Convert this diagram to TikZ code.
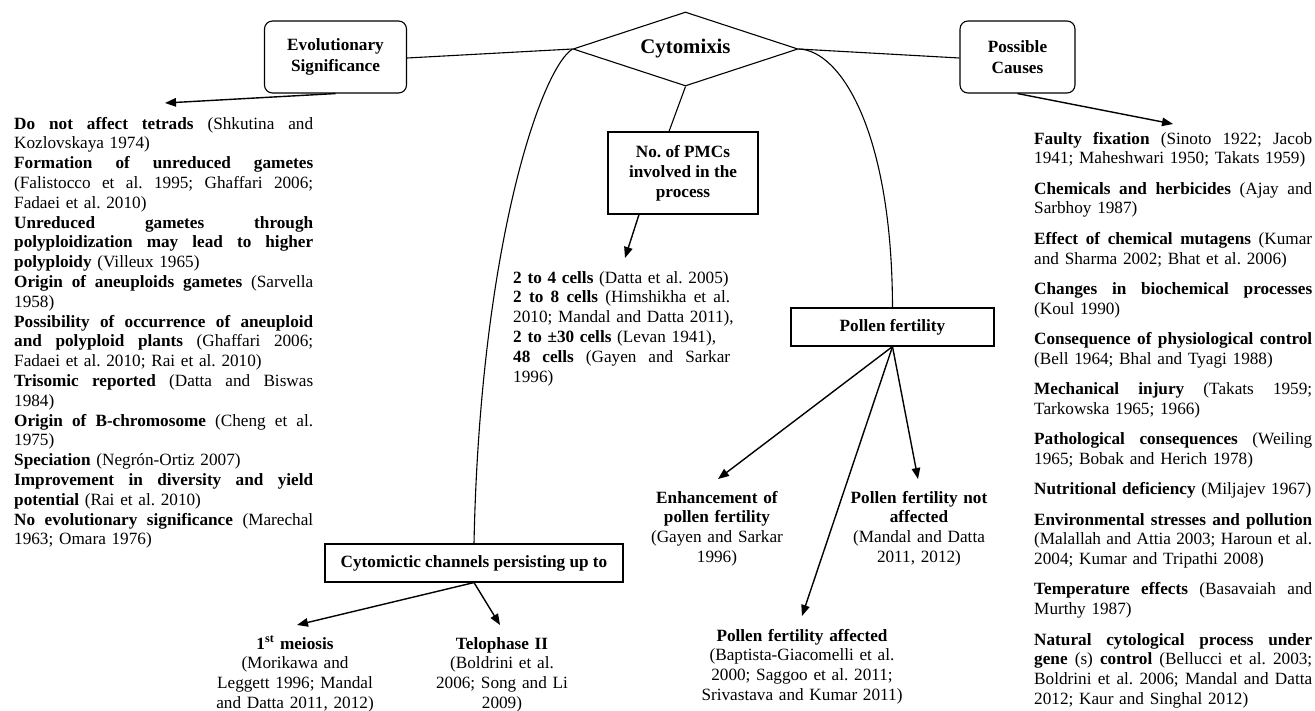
\documentclass[tikz,border=0pt]{standalone}
\usepackage{fontspec}
\setmainfont{Liberation Serif}
\usetikzlibrary{shapes.geometric,arrows.meta}
\frenchspacing
\hbadness=10000
\newcommand\jline[2]{\leavevmode\hbox to #1{\spaceskip=0.25em plus 1fil\relax\xspaceskip=\spaceskip #2}}
\begin{document}
\begin{tikzpicture}[x=1pt,y=-1pt,
  basefont/.style={font=\fontsize{17.2}{19.8}\selectfont},
  col/.style={basefont, inner sep=0pt, align=left, anchor=base west},
  ctr/.style={basefont, inner sep=0pt, align=center, anchor=base},
  rbox/.style={draw, line width=1.1pt, rounded corners=8pt, font=\fontsize{17.2}{20.5}\selectfont\bfseries, align=center, inner sep=0pt},
  sbox/.style={draw, line width=1.1pt, font=\fontsize{17.2}{20}\selectfont\bfseries, align=center, inner sep=0pt},
  conn/.style={line width=1.1pt},
  arr/.style={line width=1.4pt, -{Triangle[length=11pt,width=8.5pt]}}]
\useasboundingbox (0,0) rectangle (1315,710);

% central diamond and boxes
\node[diamond, draw, line width=1.1pt, aspect=3.04, minimum width=225pt, minimum height=74pt, inner sep=0pt,
      font=\fontsize{20.8}{24}\selectfont\bfseries] (dia) at (685.5,49) {Cytomixis};
\node[rbox, minimum width=142pt, minimum height=72pt] (evo) at (335.5,57) {Evolutionary\\Significance};
\node[rbox, minimum width=115pt, minimum height=72pt] (cau) at (1017.5,57) {Possible\\Causes};
\node[sbox, minimum width=150pt, minimum height=82pt] (pmc) at (683,173) {No. of PMCs\\involved in the\\process};
\node[sbox, minimum width=203pt, minimum height=38pt] (pol) at (892.5,327) {Pollen fertility};
\node[sbox, minimum width=298pt, minimum height=38pt] (cyt) at (474,563) {Cytomictic channels persisting up to};

% left column
\node[col, text width=299pt] (evt) at (14,129) {%
\jline{299pt}{\textbf{Do not affect tetrads} (Shkutina and}\\
Kozlovskaya 1974)\\
\jline{299pt}{\textbf{Formation of unreduced gametes}}\\
\jline{299pt}{(Falistocco et al. 1995; Ghaffari 2006;}\\
Fadaei et al. 2010)\\
\jline{299pt}{\textbf{Unreduced gametes through}}\\
\jline{299pt}{\textbf{polyploidization may lead to higher}}\\
\textbf{polyploidy} (Villeux 1965)\\
\jline{299pt}{\textbf{Origin of aneuploids gametes} (Sarvella}\\
1958)\\
\jline{299pt}{\textbf{Possibility of occurrence of aneuploid}}\\
\jline{299pt}{\textbf{and polyploid plants} (Ghaffari 2006;}\\
Fadaei et al. 2010; Rai et al. 2010)\\
\jline{299pt}{\textbf{Trisomic reported} (Datta and Biswas}\\
1984)\\
\jline{299pt}{\textbf{Origin of B-chromosome} (Cheng et al.}\\
1975)\\
\textbf{Speciation} (Negrón-Ortiz 2007)\\
\jline{299pt}{\textbf{Improvement in diversity and yield}}\\
\textbf{potential} (Rai et al. 2010)\\
\jline{299pt}{\textbf{No evolutionary significance} (Marechal}\\
1963; Omara 1976)};

% right column
\node[col, text width=280pt] (cat) at (1034,144) {%
\jline{278pt}{\textbf{Faulty fixation} (Sinoto 1922; Jacob}\\
1941; Maheshwari 1950; Takats 1959)\\[10.5pt]
\jline{278pt}{\textbf{Chemicals and herbicides} (Ajay and}\\
Sarbhoy 1987)\\[10.5pt]
\jline{278pt}{\textbf{Effect of chemical mutagens} (Kumar}\\
and Sharma 2002; Bhat et al. 2006)\\[10.5pt]
\jline{278pt}{\textbf{Changes in biochemical processes}}\\
(Koul 1990)\\[10.5pt]
\jline{278pt}{\textbf{Consequence of physiological control}}\\
(Bell 1964; Bhal and Tyagi 1988)\\[10.5pt]
\jline{278pt}{\textbf{Mechanical injury} (Takats 1959;}\\
Tarkowska 1965; 1966)\\[10.5pt]
\jline{278pt}{\textbf{Pathological consequences} (Weiling}\\
1965; Bobak and Herich 1978)\\[10.5pt]
\textbf{Nutritional deficiency} (Miljajev 1967)\\[10.5pt]
\jline{278pt}{\textbf{Environmental stresses and pollution}}\\
\jline{278pt}{(Malallah and Attia 2003; Haroun et al.}\\
2004; Kumar and Tripathi 2008)\\[10.5pt]
\jline{278pt}{\textbf{Temperature effects} (Basavaiah and}\\
Murthy 1987)\\[10.5pt]
\jline{278pt}{\textbf{Natural cytological process under}}\\
\jline{278pt}{\textbf{gene} (s) \textbf{control} (Bellucci et al. 2003;}\\
\jline{278pt}{Boldrini et al. 2006; Mandal and Datta}\\
2012; Kaur and Singhal 2012)};

% PMC text
\node[col, text width=235pt] (pmt) at (513,283) {%
\textbf{2 to 4 cells} (Datta et al. 2005)\\
\jline{217pt}{\textbf{2 to 8 cells} (Himshikha et al.}\\
2010; Mandal and Datta 2011),\\
\textbf{2 to ±30 cells} (Levan 1941),\\
\jline{217pt}{\textbf{48 cells} (Gayen and Sarkar}\\
1996)};

% pollen fertility outcomes
\node[ctr, text width=200pt] (enh) at (717,503) {\textbf{Enhancement of}\\\textbf{pollen fertility}\\(Gayen and Sarkar\\1996)};
\node[ctr, text width=200pt] (naf) at (919,503) {\textbf{Pollen fertility not}\\\textbf{affected}\\(Mandal and Datta\\2011, 2012)};
\node[ctr, text width=260pt] (aff) at (802,641) {\textbf{Pollen fertility affected}\\(Baptista-Giacomelli et al.\\2000; Saggoo et al. 2011;\\Srivastava and Kumar 2011)};

% cytomictic channel outcomes
\node[ctr, text width=200pt] (mei) at (295,649) {\textbf{1\textsuperscript{st} meiosis}\\(Morikawa and\\Leggett 1996; Mandal\\and Datta 2011, 2012)};
\node[ctr, text width=200pt] (tel) at (502,649) {\textbf{Telophase II}\\(Boldrini et al.\\2006; Song and Li\\2009)};

% arrow tips
\coordinate (tE) at (165,103);
\coordinate (tC) at (1173,124);
\coordinate (tP) at (625,258);
\coordinate (tM) at (297,625);
\coordinate (tT) at (500,625);
\coordinate (tEn) at (718,479);
\coordinate (tA) at (802,616);
\coordinate (tN) at (918,479);

% connectors
\draw[conn] ([yshift=-1pt]evo.east) -- (dia.west);
\draw[conn] (dia.east) -- ([yshift=-1pt]cau.west);
\draw[conn] (dia.south) -- ([xshift=-14pt]pmc.north);
\draw[conn] (dia.west) .. controls (540,70) and (480,250) .. (cyt.north);
\draw[conn] (dia.east) .. controls (840,50) and (892,130) .. (pol.north);
\draw[arr] (evo.south) -- (tE);
\draw[arr] (cau.south) -- (tC);
\draw[arr] ([xshift=-44pt]pmc.south) -- (tP);
\draw[arr] (cyt.south) -- (tM);
\draw[arr] (cyt.south) -- (tT);
\draw[arr] (pol.south) -- (tEn);
\draw[arr] (pol.south) -- (tA);
\draw[arr] (pol.south) -- (tN);
\end{tikzpicture}
\end{document}
